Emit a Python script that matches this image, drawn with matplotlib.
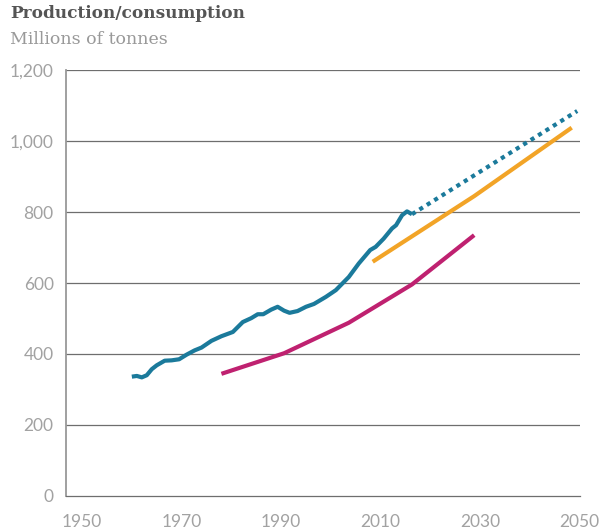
import matplotlib.pyplot as plt

# historical production (teal)
hist_years = [1960, 1961, 1962, 1963, 1964, 1965, 1966.6, 1968, 1969.5, 1971, 1972.6, 1974,
              1976, 1978, 1980.3, 1982.3, 1984, 1985.3, 1986.4, 1988, 1989.3, 1990.6, 1991.7,
              1993.3, 1995, 1996.6, 1999, 2001, 2003.6, 2005.6, 2007.9, 2009, 2010.6, 2012.3,
              2013.1, 2014.3, 2015.3, 2016.3]
hist_vals = [336, 338, 334, 340, 357, 368, 381, 382, 385, 398, 410, 418,
             437, 450, 462, 490, 501, 512, 512, 525, 533, 522, 516,
             521, 533, 541, 561, 580, 617, 655, 693, 702, 725, 754,
             763, 791, 802, 794]

# projection (dotted teal)
proj_years = [2016.3, 2049.5]
proj_vals = [794, 1085]

# orange series
orange_years = [2008.4, 2028.8, 2048.4]
orange_vals = [660, 845, 1038]

# magenta series
mag_years = [1978, 1990.6, 2003.6, 2016.3, 2028.8]
mag_vals = [344, 402, 488, 596, 735]

yticks = [0, 200, 400, 600, 800, 1000, 1200]
ytick_labels = ["0", "200", "400", "600", "800", "1,000", "1,200"]
xticks = [1950, 1970, 1990, 2010, 2030, 2050]

teal = "#1b7a9b"
orange = "#f2a427"
magenta = "#bf2170"
grid_col = "#6e6e6e"
spine_col = "#999999"
label_col = "#a2a2a2"

fig = plt.figure(figsize=(6.07, 5.32), dpi=100)
ax = fig.add_axes([0.109, 0.068, 0.846, 0.8])

for y in yticks[1:]:
    ax.axhline(y, color=grid_col, lw=0.9, zorder=1)

ax.plot(hist_years, hist_vals, color=teal, lw=3, solid_capstyle="butt", zorder=3)
ax.plot(proj_years, proj_vals, color=teal, lw=3, linestyle=(0, (1, 1.1)),
        dash_capstyle="butt", zorder=3)
ax.plot(orange_years, orange_vals, color=orange, lw=3, solid_capstyle="butt", zorder=2)
ax.plot(mag_years, mag_vals, color=magenta, lw=3, solid_capstyle="butt", zorder=2)

ax.set_xlim(1946.8, 2049.6)
ax.set_ylim(0, 1200)
ax.set_yticks(yticks)
ax.set_yticklabels(ytick_labels)
ax.set_xticks(xticks)

for s in ["top", "right"]:
    ax.spines[s].set_visible(False)
ax.spines["left"].set_color(spine_col)
ax.spines["left"].set_linewidth(1.3)
ax.spines["bottom"].set_color(grid_col)
ax.spines["bottom"].set_linewidth(0.9)
ax.spines["left"].set_bounds(0, 1200)

ax.tick_params(axis="both", length=0, labelsize=12.5, labelcolor=label_col)
ax.tick_params(axis="y", pad=9)
ax.tick_params(axis="x", pad=13)
for lab in ax.get_xticklabels() + ax.get_yticklabels():
    lab.set_fontfamily("Lato")

fig.text(0.017, 0.975, "Production/consumption", fontsize=12.2, fontweight="bold",
         color="#555555", family="DejaVu Serif", va="center", ha="left")
fig.text(0.017, 0.926, "Millions of tonnes", fontsize=12.5, color="#999999",
         family="DejaVu Serif", va="center", ha="left")

fig.savefig("out.png", dpi=100)
